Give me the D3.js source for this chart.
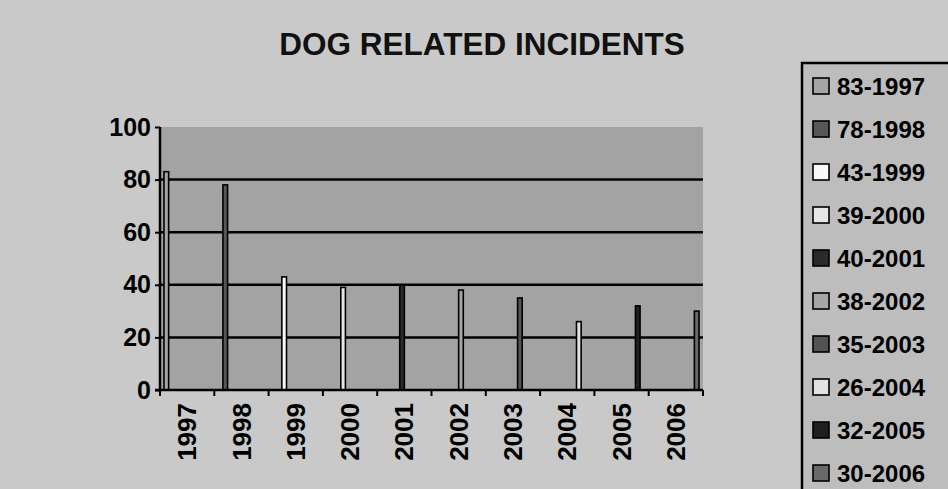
<!doctype html>
<html lang="en">
  <head>
    <meta charset="utf-8">
    <title>Dog Related Incidents</title>
    <style>
      html, body { margin: 0; padding: 0; background: #c9c9c9; overflow: hidden; }
      svg { display: block; font-family: "Liberation Sans", Arial, sans-serif; font-weight: bold; }
    </style>
  </head>
  <body>
    <div id="chart"></div>
    <script src="https://d3js.org/d3.v7.min.js"></script>
    <script>
    // data
    var years = ["1997", "1998", "1999", "2000", "2001", "2002", "2003", "2004", "2005", "2006"];
    var incidents = [83, 78, 43, 39, 40, 38, 35, 26, 32, 30];
    var yTicks = [0, 20, 40, 60, 80, 100];
    // excel default series colours, as they come out in grey on the photocopy
    var seriesGrey = ["#a5a5a5", "#575757", "#f9f9f9", "#e6e6e6", "#2a2a2a", "#a6a6a6", "#535353", "#e2e2e2", "#1f1f1f", "#696969"];

    var W = 948, H = 489;
    var svg = d3.select("#chart")
        .append("svg")
        .attr("width", W)
        .attr("height", H)
        .attr("viewBox", "0 0 " + W + " " + H);

    svg.append("rect").attr("width", W).attr("height", H).attr("fill", "#c9c9c9");

    var plot = { left: 160, right: 703, top: 127, bottom: 390 };

    var x0 = d3.scaleBand()
        .domain(years)
        .range([plot.left, plot.right]);

    // each year is its own series, so bar i sits in slot i of its cluster
    var x1 = d3.scaleBand()
        .domain(years)
        .range([4, x0.bandwidth() - 4]);

    var y = d3.scaleLinear()
        .domain([0, 100])
        .range([plot.bottom, plot.top]);

    var color = d3.scaleOrdinal(years, seriesGrey);

    // plot area
    svg.append("rect")
        .attr("x", plot.left)
        .attr("y", plot.top)
        .attr("width", plot.right - plot.left)
        .attr("height", plot.bottom - plot.top)
        .attr("fill", "#a3a3a3");

    // gridlines
    svg.append("g")
      .selectAll("line")
      .data(yTicks.filter(function(t){ return t > 0 && t < 100; }))
      .join("line")
        .attr("x1", plot.left)
        .attr("x2", plot.right)
        .attr("y1", function(d){ return y(d); })
        .attr("y2", function(d){ return y(d); })
        .attr("stroke", "#000")
        .attr("stroke-width", 2.5);

    // bars
    svg.append("g")
      .selectAll("rect")
      .data(years)
      .join("rect")
        .attr("x", function(d){ return x0(d) + x1(d); })
        .attr("y", function(d, i){ return y(incidents[i]); })
        .attr("width", x1.bandwidth())
        .attr("height", function(d, i){ return y(0) - y(incidents[i]); })
        .attr("fill", function(d){ return color(d); })
        .attr("stroke", "#000")
        .attr("stroke-width", 1.6);

    // y axis
    var yAxis = svg.append("g")
        .attr("transform", "translate(" + plot.left + ",0)")
        .call(d3.axisLeft(y).tickValues(yTicks).tickSize(5).tickPadding(4));
    yAxis.select(".domain").attr("stroke", "#000").attr("stroke-width", 2.5)
        .attr("d", "M0," + plot.top + "V" + plot.bottom);
    yAxis.selectAll(".tick line").attr("stroke-width", 2);
    yAxis.selectAll(".tick text")
        .attr("font-size", 25)
        .attr("font-family", "Liberation Sans, Arial, sans-serif")
        .attr("font-weight", "bold")
        .attr("fill", "#000");

    // x axis: ticks at category boundaries
    var xAxis = svg.append("g")
        .attr("transform", "translate(0," + plot.bottom + ")");
    xAxis.append("line")
        .attr("x1", plot.left - 5)
        .attr("x2", plot.right)
        .attr("stroke", "#000")
        .attr("stroke-width", 2.5);
    xAxis.selectAll("line.tick")
      .data(years.concat(["end"]))
      .join("line")
        .attr("class", "tick")
        .attr("x1", function(d, i){ return i < years.length ? x0(d) : plot.right; })
        .attr("x2", function(d, i){ return i < years.length ? x0(d) : plot.right; })
        .attr("y1", 0)
        .attr("y2", 6)
        .attr("stroke", "#000")
        .attr("stroke-width", 2);
    xAxis.selectAll("text")
      .data(years)
      .join("text")
        .attr("transform", function(d){ return "translate(" + (x0(d) + x0.bandwidth() / 2) + ",13) rotate(-90)"; })
        .attr("text-anchor", "end")
        .attr("dy", "0.35em")
        .attr("font-size", 26)
        .text(function(d){ return d; });

    // title
    svg.append("text")
        .attr("x", 482)
        .attr("y", 55)
        .attr("text-anchor", "middle")
        .attr("font-size", 31.5)
        .attr("fill", "#111")
        .text("DOG RELATED INCIDENTS");

    // legend (runs off the edge of the scan)
    var legend = svg.append("g").attr("transform", "translate(802,63)");
    legend.append("rect")
        .attr("width", 170)
        .attr("height", 460)
        .attr("fill", "#bdbdbd")
        .attr("stroke", "#000")
        .attr("stroke-width", 2.5);

    var item = legend.selectAll("g.item")
      .data(years)
      .join("g")
        .attr("class", "item")
        .attr("transform", function(d, i){ return "translate(11," + (23 + i * 43) + ")"; });
    item.append("rect")
        .attr("y", -8)
        .attr("width", 16)
        .attr("height", 16)
        .attr("fill", function(d){ return color(d); })
        .attr("stroke", "#000")
        .attr("stroke-width", 1.6);
    item.append("text")
        .attr("x", 24)
        .attr("dy", "0.36em")
        .attr("font-size", 24)
        .text(function(d, i){ return incidents[i] + "-" + d; });
    </script>
  </body>
</html>
